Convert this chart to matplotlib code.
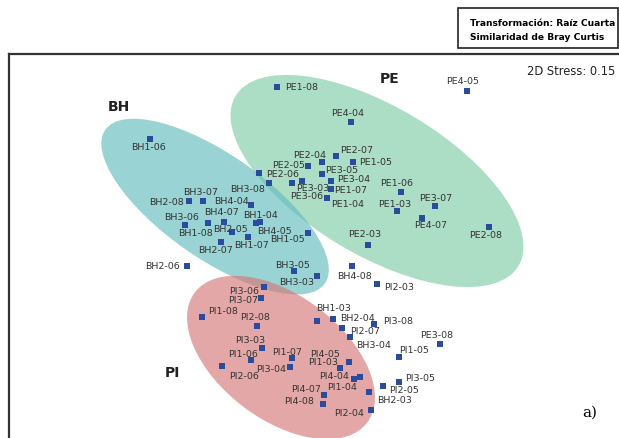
import matplotlib
matplotlib.use('Agg')
import matplotlib.pyplot as plt
from matplotlib.patches import Ellipse, Rectangle

# MDS coordinates (y grows downwards)
bh_names = ['BH1-06', 'BH3-07', 'BH2-08', 'BH4-04', 'BH3-08', 'BH4-07', 'BH3-06', 'BH1-08',
            'BH2-05', 'BH1-04', 'BH4-05', 'BH2-07', 'BH1-07', 'BH1-05', 'BH2-06', 'BH3-05',
            'BH3-03', 'BH4-08', 'BH1-03', 'BH2-04', 'BH3-04', 'BH2-03']
bh_x = [150, 202.7, 189.3, 251.3, 269.3, 224.3, 185.3, 208.3, 231.7, 256, 260, 221.3, 248.3,
        308.3, 186.7, 294.3, 316.7, 352.3, 317.3, 333.3, 350.3, 369.3]
bh_y = [140, 202.3, 202.3, 206, 184.3, 223.3, 226, 224, 233.3, 224, 223, 243.3, 238.3,
        234, 266.7, 271.7, 276.7, 267.3, 322.3, 320.3, 338.3, 393.3]

pe_names = ['PE1-08', 'PE4-04', 'PE4-05', 'PE2-04', 'PE2-07', 'PE1-05', 'PE2-05', 'PE3-05',
            'PE2-06', 'PE3-04', 'PE3-03', 'PE1-07', 'PE3-06', 'PE1-04', 'PE1-06', 'PE1-03',
            'PE3-07', 'PE4-07', 'PE2-03', 'PE2-08', 'PE3-08']
pe_x = [277.3, 350.7, 466.7, 321.7, 336, 353.3, 308.3, 321.7, 259.3, 330.7, 302.3, 330.7,
        291.7, 327.3, 400.7, 397.3, 435, 421.7, 368.3, 489, 440.3]
pe_y = [87.7, 123.3, 91.7, 163.3, 156.7, 163.3, 167.3, 175, 174.3, 181.7, 182.3, 190,
        184.3, 199.3, 193.3, 212.3, 206.7, 219.3, 245.7, 228, 345.3]

pi_names = ['PI3-06', 'PI3-07', 'PI1-08', 'PI2-08', 'PI3-03', 'PI1-06', 'PI2-06', 'PI1-07',
            'PI3-04', 'PI4-05', 'PI1-03', 'PI4-04', 'PI1-04', 'PI4-07', 'PI4-08', 'PI2-04',
            'PI2-05', 'PI3-05', 'PI1-05', 'PI2-07', 'PI3-08', 'PI2-03']
pi_x = [264.3, 260.7, 202.3, 257.3, 262.3, 251.3, 222.3, 292.3, 290.3, 349.3, 340.3, 354.3,
        360.3, 324.3, 323.3, 371.3, 383.3, 399.3, 399.3, 342.3, 374.3, 376.7]
pi_y = [288.3, 299.3, 318.3, 327.3, 349.3, 361.3, 367.3, 359.3, 368.3, 363.3, 369.3, 380.3,
        378.3, 395.7, 405.3, 410.7, 387.3, 383.3, 358.3, 329.3, 325.3, 285]

# label offsets from the marker, in pixels (right, down)
bh_off = [(-2, 7), (-2, -10), (-23, 0), (-20, -4), (-22, 5), (-3, -11), (-4, -9), (-13, 10),
          (-1, -4), (4, -8), (15, 8), (-6, 7), (3, 7), (-21, 6), (-24, 0), (-2, -6),
          (-20, 6), (2, 9), (16, -14), (24, -2), (23, 7), (25, 7)]
pe_off = [(24, 0), (-3, -10), (-4, -10), (-12, -8), (21, -6), (22, -1), (-20, -2), (20, -5),
          (23, 0), (23, -2), (10, 6), (20, 0), (15, 12), (20, 5), (-4, -10), (-3, -8),
          (1, -8), (9, 6), (-4, -11), (-3, 8), (-4, -10)]
pi_off = [(-20, 3), (-18, 1), (21, -7), (-2, -10), (-12, -9), (-8, -7), (22, 9), (-5, -7),
          (-19, 1), (-24, -9), (-17, -7), (-20, -4), (-18, 9), (-18, -6), (-24, -4), (-22, 3),
          (21, 3), (21, -5), (15, -8), (23, 2), (24, -4), (22, 3)]

# group envelopes: centre, semi axes, tilt
groups = {
    'PE': dict(center=(377, 182), a=165, b=74, angle=31, color='#80cca6', title=(390, 79)),
    'BH': dict(center=(215.1, 207.6), a=134, b=52, angle=35, color='#63bcbc', title=(119, 107)),
    'PI': dict(center=(281, 358.5), a=108, b=62, angle=37, color='#d67878', title=(172, 373)),
}

fig = plt.figure(figsize=(6.19, 4.39), dpi=100)
ax = fig.add_axes([9 / 619, 0, 610 / 619, 384 / 439])
ax.set_xlim(9, 619)
ax.set_ylim(439, 55)
ax.set_xticks([])
ax.set_yticks([])
for side in ['right', 'bottom']:
    ax.spines[side].set_visible(False)
for side in ['left', 'top']:
    ax.spines[side].set_linewidth(1.6)
    ax.spines[side].set_color('#333333')

for name, g in groups.items():
    e = Ellipse(g['center'], 2 * g['a'], 2 * g['b'], angle=g['angle'],
                facecolor=g['color'], alpha=0.65, edgecolor='none', zorder=1)
    ax.add_patch(e)
    ax.text(g['title'][0], g['title'][1], name, fontsize=10, fontweight='bold',
            color='#222222', ha='center', va='center', zorder=4)

for names, xs, ys, offs in [(bh_names, bh_x, bh_y, bh_off),
                            (pe_names, pe_x, pe_y, pe_off),
                            (pi_names, pi_x, pi_y, pi_off)]:
    ax.scatter(xs, ys, marker='s', s=13, color='#2b4c9c', linewidths=0, zorder=3)
    for n, x, y, (dx, dy) in zip(names, xs, ys, offs):
        ax.annotate(n, (x, y), xytext=(dx, -dy), textcoords='offset pixels',
                    ha='center', va='center', fontsize=6.8, color='#333333', zorder=4)

ax.text(615, 71, '2D Stress: 0.15', ha='right', va='center', fontsize=8.3, color='#222222')
ax.text(590, 413, 'a)', ha='center', va='center', fontsize=11, family='DejaVu Serif')

# caption box top right
fig.add_artist(Rectangle((458 / 619, 1 - 49 / 439), 160 / 619, 40 / 439,
                         transform=fig.transFigure, fill=False, lw=1.2, edgecolor='#222222'))
fig.text(470 / 619, 1 - 23 / 439, 'Transformación: Raíz Cuarta', fontsize=6.6,
         fontweight='bold', va='center', ha='left')
fig.text(470 / 619, 1 - 38 / 439, 'Similaridad de Bray Curtis', fontsize=6.6,
         fontweight='bold', va='center', ha='left')

fig.savefig('out.png', dpi=100)
